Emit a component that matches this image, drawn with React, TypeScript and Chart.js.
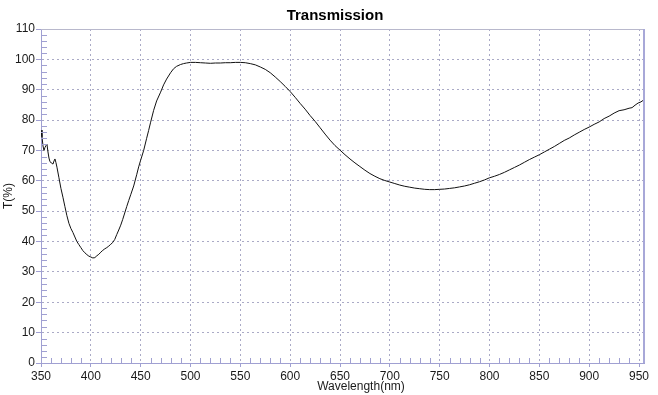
import React, { useEffect, useRef } from "react";
import { Chart, registerables } from "chart.js";

Chart.register(...registerables);

const TITLE = "Transmission";
const X_TITLE = "Wavelength(nm)";
const Y_TITLE = "T(%)";

const X_MIN = 350;
const X_MAX = 955;
const X_STEP = 50;
const X_MINOR = 10;
const Y_MIN = 0;
const Y_MAX = 110;
const Y_STEP = 10;
const Y_MINOR = 2;

const wavelength = [
  350, 351, 352, 353, 354, 355, 356, 357, 358, 359, 360, 361, 362, 363, 364, 365, 366, 368, 370, 372,
  374, 376, 378, 380, 382, 384, 386, 388, 390, 392, 394, 396, 398, 400, 402, 404, 406, 408, 410, 412,
  414, 416, 418, 420, 422, 424, 426, 428, 430, 432, 434, 436, 438, 440, 443, 446, 448, 450, 453, 456,
  458, 460, 463, 466, 470, 473, 476, 480, 483, 486, 490, 493, 496, 500, 505, 510, 515, 520, 525, 530,
  535, 540, 545, 550, 555, 560, 565, 570, 575, 580, 585, 590, 595, 600, 605, 610, 615, 620, 625, 630,
  635, 640, 645, 650, 655, 660, 665, 670, 675, 680, 685, 690, 695, 700, 705, 710, 715, 720, 725, 730,
  735, 740, 745, 750, 755, 760, 765, 770, 775, 780, 785, 790, 795, 800, 805, 810, 815, 820, 825, 830,
  835, 840, 845, 850, 855, 860, 865, 870, 875, 880, 885, 890, 895, 900, 905, 910, 915, 920, 925, 930,
  935, 940, 943, 946, 949, 952, 955,
];

const transmission = [
  76.7, 74.5, 71.5, 70.0, 71.0, 71.6, 72.0, 69.5, 67.5, 66.3, 66.0, 65.8, 65.5, 66.5, 67.2, 66.0, 64.5, 61.0, 57.5, 54.6,
  51.5, 48.5, 46.0, 44.3, 43.0, 41.5, 40.0, 39.0, 38.0, 37.0, 36.3, 35.7, 35.2, 34.9, 34.6, 34.7, 35.3, 35.8, 36.5, 37.1,
  37.6, 38.0, 38.5, 39.1, 39.7, 40.7, 42.3, 43.8, 45.4, 47.3, 49.4, 51.5, 53.5, 55.4, 58.3, 62.0, 64.6, 66.8, 70.0, 74.0,
  76.6, 79.3, 83.2, 86.3, 89.2, 91.6, 93.5, 95.6, 96.9, 97.7, 98.3, 98.6, 98.8, 99.0, 99.0, 98.9, 98.8, 98.7, 98.8, 98.8,
  98.9, 98.9, 99.0, 99.0, 98.9, 98.6, 98.2, 97.5, 96.7, 95.6, 94.2, 92.7, 91.1, 89.4, 87.5, 85.5, 83.6, 81.5, 79.6, 77.5,
  75.4, 73.4, 71.6, 70.1, 68.6, 67.2, 65.9, 64.7, 63.5, 62.4, 61.5, 60.7, 60.1, 59.6, 59.1, 58.6, 58.2, 57.9, 57.6, 57.4,
  57.2, 57.1, 57.1, 57.2, 57.3, 57.5, 57.7, 58.0, 58.3, 58.7, 59.2, 59.7, 60.3, 61.0, 61.5, 62.1, 62.8, 63.6, 64.4, 65.2,
  66.1, 67.0, 67.8, 68.6, 69.5, 70.4, 71.3, 72.3, 73.3, 74.1, 75.1, 76.0, 76.9, 77.7, 78.6, 79.4, 80.5, 81.3, 82.3, 83.1,
  83.4, 83.9, 84.1, 84.9, 85.6, 86.0, 86.7,
];

const FONT = "'Liberation Sans', Arial, sans-serif";
const GRID_COLOR = "#aaaac6";
const AXIS_COLOR = "#a0a0d2";
const TEXT_COLOR = "#1a1a1a";

const decorPlugin = {
  id: "decor",
  afterDraw(chart: any) {
    const { ctx, chartArea: a, scales } = chart;
    const x = scales.x;
    const y = scales.y;
    ctx.save();
    ctx.strokeStyle = AXIS_COLOR;
    ctx.lineWidth = 1;
    ctx.beginPath();
    for (let v = Y_MIN + Y_MINOR; v < Y_MAX; v += Y_MINOR) {
      if (v % Y_STEP === 0) continue;
      const py = Math.round(y.getPixelForValue(v)) + 0.5;
      ctx.moveTo(a.left, py);
      ctx.lineTo(a.left + 6, py);
    }
    for (let v = X_MIN + X_MINOR; v < X_MAX; v += X_MINOR) {
      if (v % X_STEP === 0) continue;
      const px = Math.round(x.getPixelForValue(v)) + 0.5;
      ctx.moveTo(px, a.bottom);
      ctx.lineTo(px, a.bottom - 5);
    }
    ctx.stroke();
    ctx.strokeStyle = "#b8b8cc";
    ctx.beginPath();
    ctx.moveTo(a.left, Math.round(a.top) + 0.5);
    ctx.lineTo(a.right, Math.round(a.top) + 0.5);
    ctx.stroke();
    ctx.strokeStyle = "#a8a8d8";
    ctx.lineWidth = 2;
    ctx.beginPath();
    ctx.moveTo(Math.round(a.right), a.top);
    ctx.lineTo(Math.round(a.right), a.bottom);
    ctx.stroke();
    ctx.fillStyle = "#000";
    ctx.font = `bold 15px ${FONT}`;
    ctx.textAlign = "center";
    ctx.textBaseline = "middle";
    ctx.fillText(TITLE, 335, 16);
    ctx.fillStyle = TEXT_COLOR;
    ctx.font = `12px ${FONT}`;
    ctx.fillText(X_TITLE, 361, 387);
    ctx.translate(9, (a.top + a.bottom) / 2);
    ctx.rotate(-Math.PI / 2);
    ctx.fillText(Y_TITLE, 0, 0);
    ctx.restore();
  },
};

export default function App() {
  const ref = useRef<HTMLCanvasElement | null>(null);
  useEffect(() => {
    if (!ref.current) return;
    const points = wavelength.map((w, i) => ({ x: w, y: transmission[i] }));
    const chart = new Chart(ref.current, {
      type: "line",
      data: {
        datasets: [
          {
            data: points,
            borderColor: "#111",
            borderWidth: 1,
            pointRadius: 0,
            tension: 0,
            fill: false,
          },
        ],
      },
      options: {
        responsive: false,
        animation: false,
        layout: { padding: { top: 29, right: 14, left: 0, bottom: 0 } },
        plugins: { legend: { display: false }, tooltip: { enabled: false }, title: { display: false } },
        scales: {
          x: {
            type: "linear",
            min: X_MIN,
            max: X_MAX,
            afterFit: (s: any) => {
              s.height = 32;
            },
            ticks: {
              stepSize: X_STEP,
              includeBounds: false,
              autoSkip: false,
              maxRotation: 0,
              padding: 2,
              color: TEXT_COLOR,
              font: { family: FONT, size: 12 },
            },
            grid: {
              color: GRID_COLOR,
              lineWidth: 1,
              tickColor: AXIS_COLOR,
              tickLength: 4,
            },
            border: { color: AXIS_COLOR, width: 1, dash: [2, 3] },
          },
          y: {
            type: "linear",
            min: Y_MIN,
            max: Y_MAX,
            afterFit: (s: any) => {
              s.width = 41;
            },
            ticks: {
              stepSize: Y_STEP,
              padding: 1,
              color: TEXT_COLOR,
              font: { family: FONT, size: 12 },
            },
            grid: {
              color: GRID_COLOR,
              lineWidth: 1,
              tickColor: AXIS_COLOR,
              tickLength: 5,
            },
            border: { color: AXIS_COLOR, width: 1, dash: [2, 3] },
          },
        },
      },
      plugins: [decorPlugin],
    });
    return () => chart.destroy();
  }, []);
  return (
    <div style={{ position: "fixed", left: 0, top: 0, width: 658, height: 395, background: "#fff" }}>
      <canvas ref={ref} width={658} height={395} style={{ display: "block" }} />
    </div>
  );
}
